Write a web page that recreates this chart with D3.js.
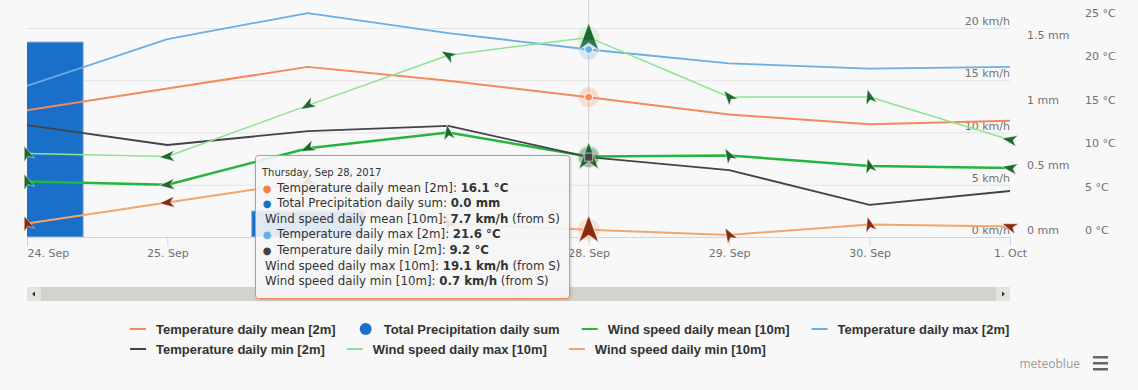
<!DOCTYPE html>
<html>
<head>
<meta charset="utf-8">
<script src="https://cdn.jsdelivr.net/npm/d3@7"></script>
<style>
  body { margin: 0; background: #f8f8f8; }
  svg { display: block; }
</style>
</head>
<body>
<script>
'use strict';

// Data
const days = ['2017-09-24', '2017-09-25', '2017-09-26', '2017-09-27', '2017-09-28', '2017-09-29', '2017-09-30', '2017-10-01'];
const tempMean = [14.6, 17.1, 19.6, 18.0, 16.1, 14.1, 13.0, 13.4];
const precip = [1.5, 0, 0.2, 0, 0, 0, 0, 0];
const windMean = [5.3, 5.0, 8.5, 10.0, 7.7, 7.8, 6.8, 6.6];
const tempMax = [17.4, 22.8, 25.8, 23.5, 21.6, 20.0, 19.4, 19.6];
const tempMin = [12.9, 10.6, 12.2, 12.8, 9.2, 7.7, 3.7, 5.3];
const windMax = [8.0, 7.7, 12.6, 17.4, 19.1, 13.4, 13.4, 9.3];
const windMin = [1.3, 3.3, 5.3, 1.3, 0.7, 0.2, 1.2, 1.0];

// wind direction, degrees the wind comes from
const windMeanDir = [160, 85, 65, 170, 180, 150, 165, 100];
const windMaxDir = [160, 85, 60, 120, 180, 140, 165, 100];
const windMinDir = [160, 85, 65, 150, 180, 150, 165, 110];

const windTicks = [0, 5, 10, 15, 20];
const precipTicks = [0, 0.5, 1, 1.5];
const tempTicks = [0, 5, 10, 15, 20, 25];

const hoverIndex = 4; // Sep 28, the point under the tooltip

// Layout
const W = 1138, H = 390;
const plot = { left: 27, right: 1010, top: 0, bottom: 237 };
const tipPos = { x: 255, y: 155, h: 143 };
const axisFont = '"DejaVu Sans", sans-serif';
const tipFont = '"DejaVu Sans", sans-serif';
const legendFont = '"Liberation Sans", Arial, sans-serif';

const dates = days.map(d3.utcParse('%Y-%m-%d'));

const x = d3.scaleUtc().domain(d3.extent(dates)).range([plot.left, plot.right]);
const yTemp = d3.scaleLinear().domain([0, 25]).range([plot.bottom, 20]);
const yPrecip = d3.scaleLinear().domain([0, 1.5]).range([plot.bottom, 42]);
const yWind = d3.scaleLinear().domain([0, 20]).range([plot.bottom, 28]);

const series = [
  { name: 'Temperature daily mean [2m]', data: tempMean, type: 'line', y: yTemp, color: '#f28a5e', width: 2, unit: '°C', bullet: '#f08050' },
  { name: 'Total Precipitation daily sum', data: precip, type: 'column', y: yPrecip, color: '#1a70c8', unit: 'mm', bullet: '#1a70c8' },
  { name: 'Wind speed daily mean [10m]', data: windMean, dir: windMeanDir, type: 'wind', y: yWind, color: '#25b53f', width: 2.5, arrow: '#1b6a2c', unit: 'km/h' },
  { name: 'Temperature daily max [2m]', data: tempMax, type: 'line', y: yTemp, color: '#6badE5', width: 1.8, unit: '°C', bullet: '#6badE5' },
  { name: 'Temperature daily min [2m]', data: tempMin, type: 'line', y: yTemp, color: '#434348', width: 1.8, unit: '°C', bullet: '#434348', marker: 'square' },
  { name: 'Wind speed daily max [10m]', data: windMax, dir: windMaxDir, type: 'wind', y: yWind, color: '#8fe38f', width: 1.5, arrow: '#1b6a2c', unit: 'km/h' },
  { name: 'Wind speed daily min [10m]', data: windMin, dir: windMinDir, type: 'wind', y: yWind, color: '#f5a46c', width: 2, arrow: '#8b2a0f', unit: 'km/h' }
];

const svg = d3.select('body').append('svg')
  .attr('width', W)
  .attr('height', H)
  .style('background', '#f8f8f8');

const defs = svg.append('defs');
defs.append('clipPath').attr('id', 'plot-clip')
  .append('rect')
  .attr('x', plot.left).attr('y', plot.top)
  .attr('width', plot.right - plot.left).attr('height', plot.bottom - plot.top);
defs.append('filter').attr('id', 'shadow').attr('x', '-10%').attr('y', '-10%').attr('width', '130%').attr('height', '130%')
  .append('feDropShadow')
  .attr('dx', 1).attr('dy', 1).attr('stdDeviation', 1.5)
  .attr('flood-color', '#000').attr('flood-opacity', 0.2);

// Wind axis with the grid lines, labels inside the plot on the right
svg.append('g')
  .attr('transform', `translate(${plot.left},0)`)
  .call(d3.axisRight(yWind).tickValues(windTicks).tickSize(plot.right - plot.left).tickPadding(0).tickFormat(d => d + ' km/h'))
  .call(g => g.select('.domain').remove())
  .call(g => g.selectAll('line').attr('stroke', '#e4e4e4'))
  .call(g => g.selectAll('text').attr('text-anchor', 'end').attr('y', -7)
    .attr('fill', '#707070').attr('font-family', axisFont).attr('font-size', 11));

// Precipitation axis
svg.append('g')
  .attr('transform', 'translate(1027,0)')
  .call(d3.axisRight(yPrecip).tickValues(precipTicks).tickSize(0).tickPadding(0).tickFormat(d => d + ' mm'))
  .call(g => g.select('.domain').remove())
  .call(g => g.selectAll('text').attr('y', -7)
    .attr('fill', '#707070').attr('font-family', axisFont).attr('font-size', 11));

// Temperature axis
svg.append('g')
  .attr('transform', 'translate(1085,0)')
  .call(d3.axisRight(yTemp).tickValues(tempTicks).tickSize(0).tickPadding(0).tickFormat(d => d + ' °C'))
  .call(g => g.select('.domain').remove())
  .call(g => g.selectAll('text').attr('y', -7)
    .attr('fill', '#707070').attr('font-family', axisFont).attr('font-size', 11));

// Time axis; labels that sit fully under the tooltip are hidden, as in the original
svg.append('g')
  .attr('transform', `translate(0,${plot.bottom})`)
  .call(d3.axisBottom(x).tickValues(dates).tickSize(9).tickSizeOuter(0).tickPadding(3).tickFormat(d3.utcFormat('%-d. %b')))
  .call(g => g.select('.domain').attr('stroke', '#ccd6eb'))
  .call(g => g.selectAll('line').attr('stroke', '#ccd6eb'))
  .call(g => g.selectAll('text').attr('fill', '#707070').attr('font-family', axisFont).attr('font-size', 11))
  .call(g => g.select('.tick text').attr('text-anchor', 'start'))
  .call(g => g.selectAll('.tick')
    .filter(d => x(d) - 22 > tipPos.x && x(d) + 22 < tipPos.x + 320)
    .select('text').remove());

// Columns
const step = x(dates[1]) - x(dates[0]);
const colWidth = step * 0.8;
svg.append('g')
  .attr('clip-path', 'url(#plot-clip)')
  .selectAll('rect')
  .data(series[1].data.map((v, i) => ({ v, d: dates[i] })).filter(p => p.v > 0))
  .join('rect')
  .attr('x', p => x(p.d) - colWidth / 2)
  .attr('y', p => yPrecip(p.v))
  .attr('width', colWidth)
  .attr('height', p => yPrecip(0) - yPrecip(p.v))
  .attr('fill', series[1].color)
  .attr('stroke', '#8ab8e6')
  .attr('stroke-width', 1);

// Crosshair
svg.append('line')
  .attr('x1', x(dates[hoverIndex])).attr('x2', x(dates[hoverIndex]))
  .attr('y1', plot.top).attr('y2', plot.bottom)
  .attr('stroke', '#cfcfcf');

// Lines
const lineLayer = svg.append('g').attr('clip-path', 'url(#plot-clip)');
series.filter(s => s.type !== 'column').forEach(s => {
  const line = d3.line().x((d, i) => x(dates[i])).y(d => s.y(d));
  lineLayer.append('path')
    .datum(s.data)
    .attr('d', line)
    .attr('fill', 'none')
    .attr('stroke', s.color)
    .attr('stroke-width', s.width)
    .attr('stroke-linejoin', 'round');
});

// Wind arrows
const arrowPath = 'M0,-8 L5.5,7 L0,3 L-5.5,7 Z';
const markerLayer = svg.append('g');
series.filter(s => s.type === 'wind').forEach(s => {
  s.data.forEach((v, i) => {
    const hover = i === hoverIndex;
    const px = x(dates[i]), py = s.y(v);
    if (hover) {
      markerLayer.append('circle')
        .attr('cx', px).attr('cy', py).attr('r', 11)
        .attr('fill', s.color).attr('opacity', 0.25);
    }
    markerLayer.append('path')
      .attr('d', arrowPath)
      .attr('transform', `translate(${px},${py}) rotate(${(s.dir[i] + 180) % 360}) scale(${hover ? 1.85 : 1})`)
      .attr('fill', s.arrow)
      .attr('stroke', '#ffffff')
      .attr('stroke-opacity', 0.6)
      .attr('stroke-width', 0.7);
  });
});

// Hover markers of the temperature lines
series.filter(s => s.type === 'line').forEach(s => {
  const px = x(dates[hoverIndex]), py = s.y(s.data[hoverIndex]);
  markerLayer.append('circle')
    .attr('cx', px).attr('cy', py).attr('r', 10)
    .attr('fill', s.color).attr('opacity', 0.25);
  if (s.marker === 'square') {
    markerLayer.append('rect')
      .attr('x', px - 4).attr('y', py - 4).attr('width', 8).attr('height', 8)
      .attr('fill', s.color).attr('stroke', '#bbbbbb').attr('stroke-width', 1);
  } else {
    markerLayer.append('circle')
      .attr('cx', px).attr('cy', py).attr('r', 4)
      .attr('fill', s.color).attr('stroke', '#ffffff').attr('stroke-width', 1);
  }
});

// Scrollbar
const sb = svg.append('g').attr('transform', 'translate(0,287)');
sb.append('rect').attr('x', plot.left).attr('y', 0).attr('width', plot.right - plot.left).attr('height', 14)
  .attr('fill', '#d4d2cd');
sb.append('rect').attr('x', plot.left).attr('y', 0).attr('width', 14).attr('height', 14).attr('fill', '#e4e3e0');
sb.append('rect').attr('x', plot.right - 14).attr('y', 0).attr('width', 14).attr('height', 14).attr('fill', '#e4e3e0');
sb.append('path').attr('d', `M${plot.left + 5},7 L${plot.left + 8},4.5 L${plot.left + 8},9.5 Z`).attr('fill', '#333');
sb.append('path').attr('d', `M${plot.right - 5},7 L${plot.right - 8},4.5 L${plot.right - 8},9.5 Z`).attr('fill', '#333');
const mid = (plot.left + plot.right) / 2;
[-3, 0, 3].forEach(o => {
  sb.append('line').attr('x1', mid + o).attr('x2', mid + o).attr('y1', 4).attr('y2', 10)
    .attr('stroke', '#a8a6a2').attr('stroke-width', 1);
});

// Tooltip
const compass = d => ['N', 'NNE', 'NE', 'ENE', 'E', 'ESE', 'SE', 'SSE', 'S', 'SSW', 'SW', 'WSW', 'W', 'WNW', 'NW', 'NNW'][Math.round(d / 22.5) % 16];
const f1 = d3.format('.1f');
const tip = svg.append('g').attr('transform', `translate(${tipPos.x},${tipPos.y})`);
const tipBox = tip.append('rect')
  .attr('rx', 3).attr('ry', 3)
  .attr('fill', 'rgba(248,248,248,0.88)')
  .attr('stroke', series[0].color)
  .attr('stroke-width', 1)
  .attr('filter', 'url(#shadow)');
tip.append('text')
  .attr('x', 7).attr('y', 21)
  .attr('font-family', tipFont).attr('font-size', 10).attr('fill', '#333')
  .text(d3.utcFormat('%A, %b %-d, %Y')(dates[hoverIndex]));

let tipWidth = 0;
series.forEach((s, i) => {
  const y = 36.5 + i * 15.6;
  if (s.bullet) {
    tip.append('text').attr('x', 12).attr('y', y).attr('text-anchor', 'middle')
      .attr('font-size', 10).attr('fill', s.bullet).attr('font-family', tipFont).text('●');
  }
  const t = tip.append('text')
    .attr('x', s.bullet ? 22 : 10).attr('y', y)
    .attr('font-family', tipFont).attr('font-size', 11.8).attr('fill', '#333');
  t.append('tspan').text(s.name + ': ');
  t.append('tspan').attr('font-weight', 'bold').text(f1(s.data[hoverIndex]) + ' ' + s.unit);
  if (s.dir) t.append('tspan').text(' (from ' + compass(s.dir[hoverIndex]) + ')');
  const bb = t.node().getBBox();
  tipWidth = Math.max(tipWidth, bb.x + bb.width);
});
tipBox.attr('x', 0.5).attr('y', 0.5).attr('width', Math.round(tipWidth + 9)).attr('height', tipPos.h);

// Legend
const legend = svg.append('g');
const legendLeft = 130, legendRight = 1012;
let lx = legendLeft, ly = 329;
series.forEach(s => {
  const item = legend.append('g');
  const label = item.append('text')
    .attr('x', 26).attr('y', 0).attr('dy', '0.35em')
    .attr('font-family', legendFont).attr('font-size', 13).attr('font-weight', 'bold').attr('fill', '#333')
    .text(s.name);
  const w = 26 + label.node().getComputedTextLength();
  if (lx + w > legendRight) { lx = legendLeft; ly += 20; }
  item.attr('transform', `translate(${lx},${ly})`);
  if (s.type === 'column') {
    item.append('circle').attr('cx', 8).attr('cy', 0).attr('r', 6).attr('fill', s.color);
  } else {
    item.append('line').attr('x1', 0).attr('x2', 16).attr('y1', 0).attr('y2', 0)
      .attr('stroke', s.color).attr('stroke-width', 2);
  }
  lx += w + 22;
});

// Credits and menu
svg.append('text')
  .attr('x', 1080).attr('y', 368).attr('text-anchor', 'end')
  .attr('font-family', '"Open Sans", sans-serif').attr('font-size', 12).attr('fill', '#999')
  .text('meteoblue');
[356, 362, 368].forEach(y => {
  svg.append('rect').attr('x', 1093).attr('y', y).attr('width', 15).attr('height', 2.5).attr('fill', '#666');
});
</script>
</body>
</html>
